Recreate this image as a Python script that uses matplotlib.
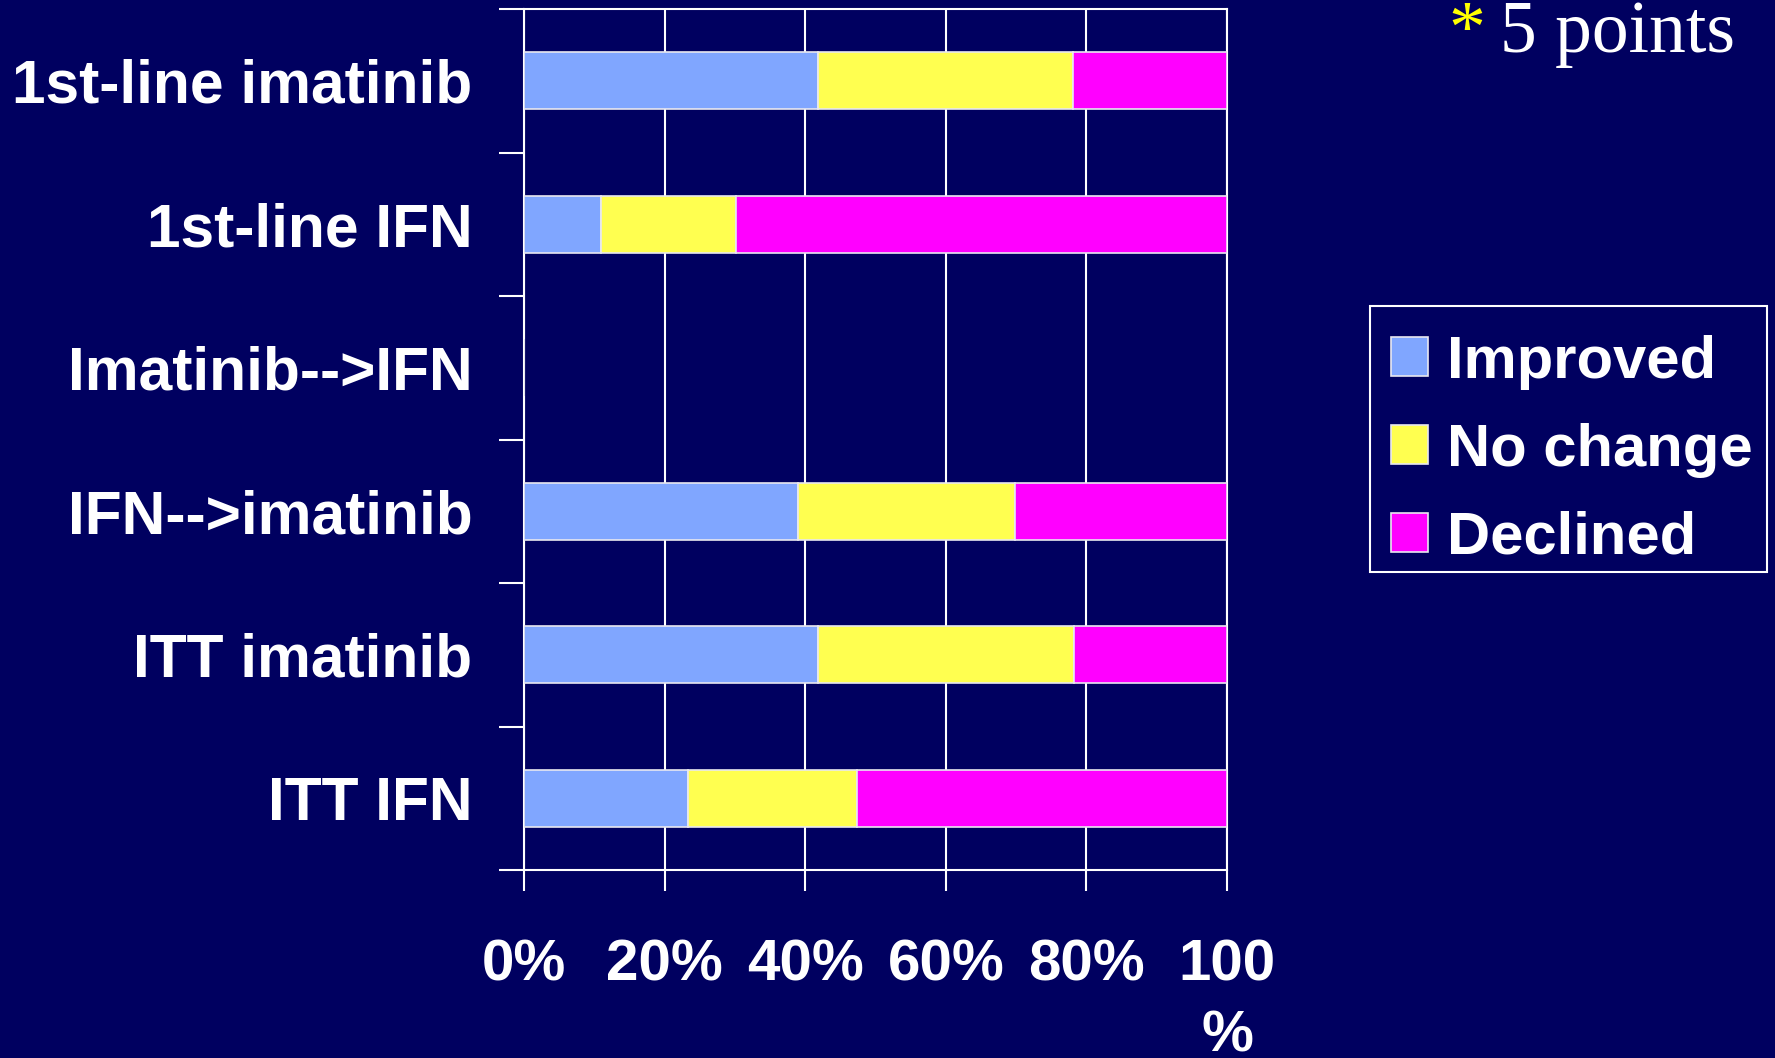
import numpy as np
import matplotlib.pyplot as plt
from matplotlib.patches import Rectangle

categories = ['1st-line imatinib', '1st-line IFN', 'Imatinib-->IFN',
              'IFN-->imatinib', 'ITT imatinib', 'ITT IFN']
improved = [41.8, 11.0, 0, 39.0, 41.8, 23.3]
no_change = [36.3, 19.2, 0, 30.9, 36.4, 24.1]
declined = [21.9, 69.8, 0, 30.1, 21.8, 52.6]
series = ['Improved', 'No change', 'Declined']
colors = ['#80A6FF', '#FFFF50', '#FF00FF']
xticks = [0, 20, 40, 60, 80, 100]
xlabels = ['0%', '20%', '40%', '60%', '80%', '100\n%']

bg = '#000060'
plt.rcParams['font.family'] = ['Liberation Sans', 'DejaVu Sans']
plt.rcParams['font.weight'] = 'bold'

fig = plt.figure(figsize=(17.75, 10.58), dpi=100, facecolor=bg)
ax = fig.add_axes([524/1775, 1-870/1058, (1227-524)/1775, (870-9)/1058])
ax.set_facecolor(bg)

# stacked horizontal bars
y = np.arange(len(categories))
left = np.zeros(len(categories))
for vals, name, c in zip([improved, no_change, declined], series, colors):
    ax.barh(y, vals, left=left, height=0.4, color=c, edgecolor='#E8E8F0',
            linewidth=1.2, label=name, zorder=3)
    left += np.array(vals)

ax.set_xlim(0, 100)
ax.set_ylim(5.5, -0.5)

for s in ax.spines.values():
    s.set_color('white')
    s.set_linewidth(1.5)

ax.set_xticks(xticks)
ax.set_xticklabels(xlabels, fontsize=42, color='white', linespacing=1.42)
ax.tick_params(axis='x', direction='out', length=15, width=1.5,
               color='white', pad=34)

ax.set_yticks(y)
ax.set_yticklabels(categories, fontsize=43.6, color='white')
ax.tick_params(axis='y', which='major', length=0, pad=37)
ax.set_yticks(np.arange(-0.5, 6, 1), minor=True)
ax.tick_params(axis='y', which='minor', length=18, width=1.5,
               color='white', direction='out')

ax.xaxis.grid(True, color='white', linewidth=1.5)
ax.set_axisbelow(True)

# legend entries without frame, box drawn separately
leg = ax.legend(loc='upper left', bbox_to_anchor=(1365.5/1775, 1-309.6/1058),
                bbox_transform=fig.transFigure, fontsize=43, frameon=False,
                handlelength=0.62, handleheight=0.62, handletextpad=0.32,
                labelspacing=0.55, borderpad=0.42, borderaxespad=0)
for t in leg.get_texts():
    t.set_color('white')
fig.patches.append(Rectangle((1370/1775, 1-572/1058), (1767-1370)/1775,
                             (572-306)/1058, transform=fig.transFigure,
                             fill=False, edgecolor='white', linewidth=1.5))

fig.text(1448/1775, 1-52/1058, '*', family='Liberation Serif', fontsize=53,
         color='#FFFF00', weight='normal', va='baseline')
fig.text(1500/1775, 1-52/1058, '5 points', family='Liberation Serif',
         fontsize=53, color='white', weight='normal', va='baseline')

fig.savefig('out.png', dpi=100, facecolor=bg)
